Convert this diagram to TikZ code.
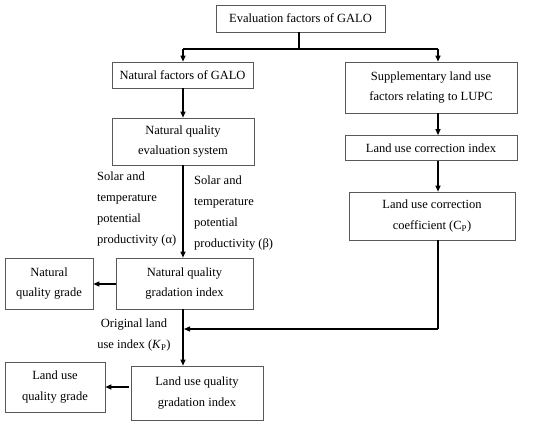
\documentclass[tikz,border=0pt]{standalone}
\usepackage{fontspec}
\setmainfont{Liberation Serif}
\usetikzlibrary{arrows.meta}
\begin{document}
\begin{tikzpicture}[x=1pt,y=-1pt,
  box/.style={draw=black!65,line width=0.7pt,rectangle,inner sep=0pt,align=center,
    font=\fontsize{12.5}{20.5}\selectfont},
  conn/.style={line width=1.1pt,black},
  arr/.style={conn,-{Triangle[length=6pt,width=5pt]}},
  lbl/.style={inner sep=0pt,anchor=north west,align=left,font=\fontsize{12.5}{21}\selectfont}]
\useasboundingbox (0,0) rectangle (550,425);
\node[box,minimum width=169pt,minimum height=27pt] (top) at (300.5,18.5) {Evaluation factors of GALO};
\node[box,minimum width=141pt,minimum height=26pt] (natfac) at (182.5,75) {Natural factors of GALO};
\node[box,minimum width=172pt,minimum height=51pt] (supp) at (431,87.5) {Supplementary land use\\factors relating to LUPC};
\node[box,minimum width=142pt,minimum height=47pt] (nqes) at (183,141.5) {Natural quality\\evaluation system};
\node[box,minimum width=172pt,minimum height=25pt] (luci) at (431,148) {Land use correction index};
\node[box,minimum width=166pt,minimum height=48pt] (luccoef) at (432,216) {Land use correction\\coefficient (C\textsubscript{P})};
\node[box,minimum width=137pt,minimum height=51pt] (nqgi) at (184.5,283.5) {Natural quality\\gradation index};
\node[box,minimum width=88pt,minimum height=51pt] (nqg) at (49,283.5) {Natural\\quality grade};
\node[box,minimum width=132pt,minimum height=54pt] (luqgi) at (197,393) {Land use quality\\gradation index};
\node[box,minimum width=100pt,minimum height=50pt] (luqg) at (55,387) {Land use\\quality grade};
\coordinate (jt) at (299,49);
\coordinate (jl) at (183,49);
\coordinate (jr) at (438,49);
\coordinate (mr) at (438,329);
\coordinate (ml) at (183,329);
\draw[conn] (top.south -| jt) -- (jt);
\draw[conn] (jl) -- (jr);
\draw[arr] (jl) -- (jl |- natfac.north);
\draw[arr] (jr) -- (jr |- supp.north);
\draw[arr] (natfac.south -| jl) -- (jl |- nqes.north);
\draw[arr] (nqes.south -| jl) -- (jl |- nqgi.north);
\draw[arr] (supp.south -| jr) -- (jr |- luci.north);
\draw[arr] (luci.south -| jr) -- (jr |- luccoef.north);
\draw[conn] (luccoef.south -| jr) -- (mr);
\draw[arr] (mr) -- ([xshift=1pt]ml);
\draw[arr] (nqgi.south -| jl) -- (jl |- luqgi.north);
\draw[arr] (nqgi.west |- 0,284) -- (nqg.east |- 0,284);
\draw[arr] ([xshift=-2pt]luqgi.west |- 0,387) -- (luqg.east |- 0,387);
\node[lbl] (la) at (97,172) {Solar and\\temperature\\potential\\productivity (α)};
\node[lbl] (lb) at (194,176) {Solar and\\temperature\\potential\\productivity (β)};
\node[lbl,align=center,anchor=north] (lk) at (134,319) {Original land\\use index (\textit{K}\textsubscript{P})};
\end{tikzpicture}
\end{document}
